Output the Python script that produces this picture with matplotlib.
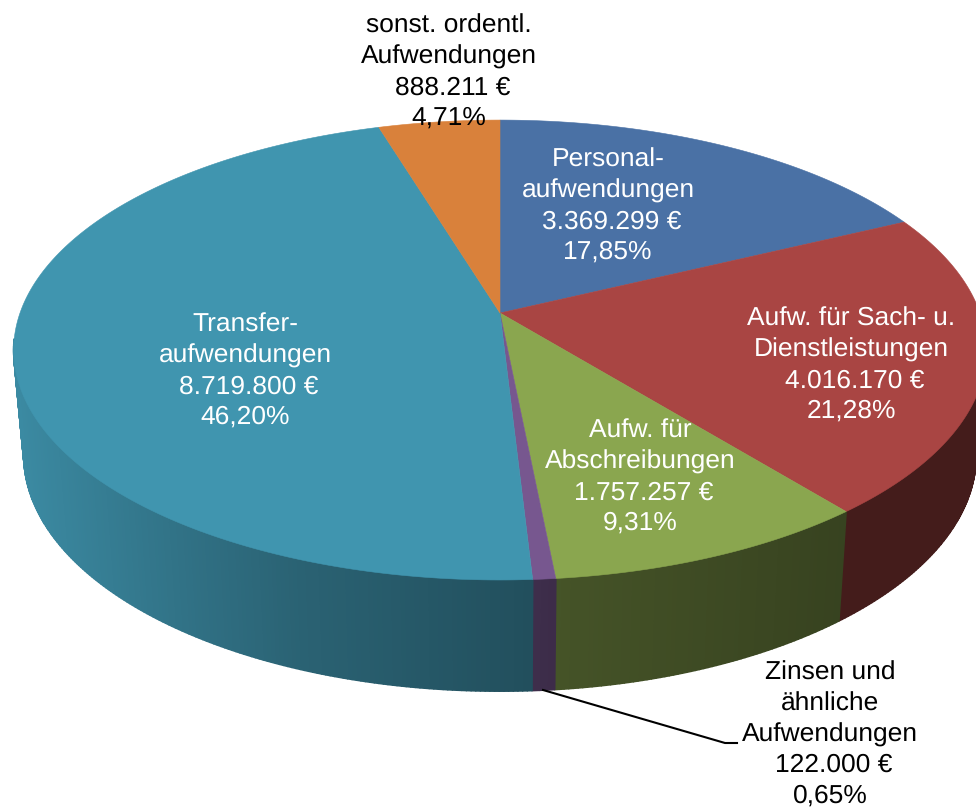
import numpy as np
import matplotlib
matplotlib.use("Agg")
import matplotlib.pyplot as plt
from matplotlib.collections import PolyCollection
from matplotlib.patches import Polygon

plt.rcParams["font.family"] = ["Liberation Sans", "DejaVu Sans"]
plt.rcParams["text.hinting"] = "no_hinting"

# Data (clockwise from 12 o'clock)
names = [["Personal-", "aufwendungen"], ["Aufw. für Sach- u.", "Dienstleistungen"], ["Aufw. für", "Abschreibungen"],
         ["Zinsen und", "ähnliche", "Aufwendungen"], ["Transfer-", "aufwendungen"], ["sonst. ordentl.", "Aufwendungen"]]
values = [3369299, 4016170, 1757257, 122000, 8719800, 888211]
value_labels = ["3.369.299 €", "4.016.170 €", "1.757.257 €", "122.000 €", "8.719.800 €", "888.211 €"]
percent_labels = ["17,85%", "21,28%", "9,31%", "0,65%", "46,20%", "4,71%"]

top_colors = ["#4A71A5", "#A94543", "#8AA64F", "#77578F", "#4095AF", "#D9813B"]
text_colors = ["white", "white", "white", "black", "white", "black"]
label_x = [608, 851, 640, 830, 245, 449]
first_baseline = [167, 326, 438, 680, 332, 33]
LINE_PITCH = 30.7
EURO_SHIFT = 3.7

# Side shading, darker to the right
shade_x = [20, 170, 300, 530, 560, 840, 980]
shade_f = [0.93, 0.78, 0.66, 0.53, 0.50, 0.40, 0.40]

# Perspective of the disc
CX = 500
TILT = 0.161
TOP_Y, TOP_A, TOP_B = 313, 480, 224
BOT_Y, BOT_A, BOT_B = 417, 470, 230


def rim(theta, y0, a, b):
    """Circle point at angle theta (clockwise from top) to pixel coordinates."""
    u = np.sin(theta)
    v = -np.cos(theta)
    d = 1 - TILT * v
    return CX + a * u / d, y0 + b * v / d


fig = plt.figure(figsize=(9.76, 8.08), dpi=100)
ax = fig.add_axes([0, 0, 1, 1])
ax.set_xlim(0, 976)
ax.set_ylim(808, 0)
ax.axis("off")

edges = np.concatenate([[0], np.cumsum(values)]) / np.sum(values) * 2 * np.pi

# sides first, only the part facing the viewer
for i in range(len(values)):
    th = np.linspace(edges[i], edges[i + 1], max(int((edges[i + 1] - edges[i]) * 120), 3))
    x1, y1 = rim(th, TOP_Y, TOP_A, TOP_B)
    x2, y2 = rim(th, BOT_Y, BOT_A, BOT_B)
    quads = []
    cols = []
    base = np.array(matplotlib.colors.to_rgb(top_colors[i]))
    for j in range(len(th) - 1):
        if -np.cos(th[j]) < 0.12 and -np.cos(th[j + 1]) < 0.12:
            continue
        quads.append([(x1[j], y1[j]), (x1[j + 1], y1[j + 1]), (x2[j + 1], y2[j + 1]), (x2[j], y2[j])])
        cols.append(base * np.interp((x2[j] + x2[j + 1]) / 2, shade_x, shade_f))
    if quads:
        ax.add_collection(PolyCollection(quads, facecolors=cols, edgecolors=cols, linewidths=1.2, zorder=1))

# top face
for i in range(len(values)):
    th = np.linspace(edges[i], edges[i + 1], 200)
    x1, y1 = rim(th, TOP_Y, TOP_A, TOP_B)
    pts = np.column_stack([np.r_[CX, x1], np.r_[TOP_Y, y1]])
    ax.add_patch(Polygon(pts, closed=True, facecolor=top_colors[i], edgecolor=top_colors[i], linewidth=0.4, zorder=2))

# leader line for the small slice
ax.plot([543, 725, 737], [690, 743, 743], color="black", linewidth=1.5, zorder=3)

# labels, one text per line so the pitch stays even
for i in range(len(values)):
    lines = names[i] + [value_labels[i], percent_labels[i]]
    for n, line in enumerate(lines):
        x = label_x[i] + (EURO_SHIFT if line == value_labels[i] else 0)
        ax.text(x, first_baseline[i] + n * LINE_PITCH, line, color=text_colors[i], fontsize=19,
                ha="center", va="baseline", zorder=4)

fig.savefig("out.png", dpi=100)
